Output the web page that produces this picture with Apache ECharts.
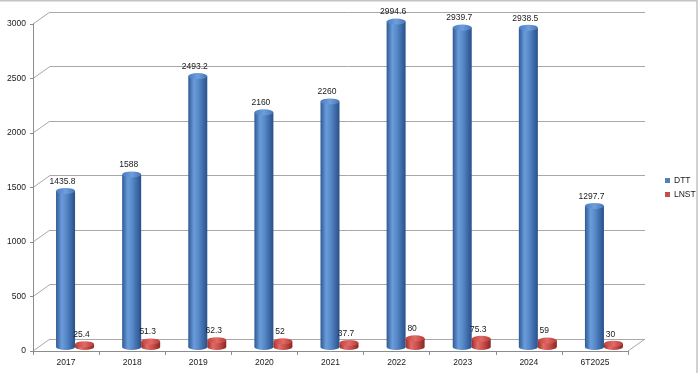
<!DOCTYPE html>
<html><head><meta charset="utf-8">
<script src="https://cdn.jsdelivr.net/npm/echarts@6/dist/echarts.min.js"></script>
<style>html,body{margin:0;padding:0;background:#fff}#c{width:700px;height:373px}</style>
</head><body><div id="c"></div>
<script>
const categories = ['2017','2018','2019','2020','2021','2022','2023','2024','6T2025'];
const dttValues = [1435.8, 1588, 2493.2, 2160, 2260, 2994.6, 2939.7, 2938.5, 1297.7];
const lnstValues = [25.4, 51.3, 62.3, 52, 37.7, 80, 75.3, 59, 30];
const yTickValues = [0, 500, 1000, 1500, 2000, 2500, 3000];

const FONT = 'Liberation Sans';
const BW = 19;
function hgrad(stops){return {type:'linear',x:0,y:0,x2:1,y2:0,colorStops:stops.map((c,i)=>({offset:c[0],color:c[1]}))};}
const blueBody = hgrad([[0,'#2d5a94'],[0.3,'#6b9cda'],[0.55,'#5687c7'],[1,'#27508a']]);
const redBody = hgrad([[0,'#9a2e2a'],[0.3,'#e26b66'],[0.6,'#c94f4b'],[1,'#8a2724']]);
const blueTop = hgrad([[0,'#4a7cc0'],[0.5,'#6f9edb'],[1,'#4676b8']]);
const redTop = hgrad([[0,'#c2423e'],[0.5,'#df6a66'],[1,'#b83b37']]);

const chart = echarts.init(document.getElementById('c'), null, {renderer:'canvas'});
const yMin = yTickValues[0], yMax = yTickValues[yTickValues.length-1], yInt = yTickValues[1]-yTickValues[0];
const txt = {color:'#1a1a1a', fontFamily:FONT, fontSize:8.5};

chart.setOption({
  animation:false,
  backgroundColor:'#ffffff',
  grid:[
    {left:33, right:72, top:24, bottom:22},
    {left:50, right:55, top:12, bottom:34},
    {left:42, right:63, top:21, bottom:26}
  ],
  xAxis:[
    {gridIndex:0, type:'category', data:categories, boundaryGap:true,
     axisLine:{show:true, lineStyle:{color:'#8c8c8c'}},
     axisTick:{show:true, length:4, lineStyle:{color:'#8c8c8c'}},
     axisLabel:Object.assign({margin:7}, txt)},
    {gridIndex:1, type:'value', min:0, max:1, show:false},
    {gridIndex:2, type:'category', data:categories, show:false}
  ],
  yAxis:[
    {gridIndex:0, type:'value', min:yMin, max:yMax, interval:yInt,
     axisLine:{show:true, lineStyle:{color:'#8c8c8c'}},
     axisTick:{show:true, length:3, lineStyle:{color:'#8c8c8c'}},
     splitLine:{show:false},
     axisLabel:Object.assign({margin:7, formatter:v=>String(v)}, txt)},
    {gridIndex:1, type:'value', min:yMin, max:yMax, interval:yInt,
     axisLine:{show:false}, axisTick:{show:false}, axisLabel:{show:false},
     splitLine:{show:true, lineStyle:{color:'#a8a8a8', width:1}}},
    {gridIndex:2, type:'value', min:yMin, max:yMax, show:false}
  ],
  legend:{
    orient:'vertical', left:665, top:176, padding:0, itemWidth:5, itemHeight:5, itemGap:5,
    textStyle:Object.assign({}, txt, {padding:[0,0,0,-1]}),
    icon:'rect',
    data:[{name:'DTT', itemStyle:{color:'#4f81bd'}},{name:'LNST', itemStyle:{color:'#c0504d'}}]
  },
  series:[
    {name:'DTT', type:'bar', xAxisIndex:2, yAxisIndex:2, data:dttValues, barWidth:BW, barGap:'0%',
     itemStyle:{color:blueBody}, z:3,
     label:{show:true, position:'top', distance:5, offset:[-3,0], color:'#1a1a1a', fontFamily:FONT, fontSize:8.5}},
    {name:'LNST', type:'bar', xAxisIndex:2, yAxisIndex:2, data:lnstValues, barWidth:BW, barGap:'0%',
     itemStyle:{color:redBody}, z:3,
     label:{show:true, position:'top', distance:5, offset:[-3,0], color:'#1a1a1a', fontFamily:FONT, fontSize:8.5}},
    {name:'DTT', type:'pictorialBar', xAxisIndex:2, yAxisIndex:2, data:dttValues, symbol:'circle',
     symbolSize:[BW,6], symbolPosition:'end', symbolOffset:[-BW/2,'-50%'], itemStyle:{color:blueTop}, z:4, silent:true},
    {name:'LNST', type:'pictorialBar', xAxisIndex:2, yAxisIndex:2, data:lnstValues, symbol:'circle',
     symbolSize:[BW,6], symbolPosition:'end', symbolOffset:[BW/2,'-50%'], itemStyle:{color:redTop}, z:4, silent:true},
    {name:'DTT', type:'pictorialBar', xAxisIndex:2, yAxisIndex:2, data:dttValues, symbol:'circle',
     symbolSize:[BW,6], symbolPosition:'start', symbolOffset:[-BW/2,'50%'], itemStyle:{color:blueBody}, z:2, silent:true},
    {name:'LNST', type:'pictorialBar', xAxisIndex:2, yAxisIndex:2, data:lnstValues, symbol:'circle',
     symbolSize:[BW,6], symbolPosition:'start', symbolOffset:[BW/2,'50%'], itemStyle:{color:redBody}, z:2, silent:true}
  ]
});

// perspective connectors between the front axes and the back wall, from the library's scales
const c0 = chart.convertToPixel({xAxisIndex:0}, 0);
const c1 = chart.convertToPixel({xAxisIndex:0}, 1);
const band = c1 - c0;
const frontLeft = c0 - band/2;
const frontRight = chart.convertToPixel({xAxisIndex:0}, categories.length-1) + band/2;
const backLeft = chart.convertToPixel({xAxisIndex:1}, 0);
const backRight = chart.convertToPixel({xAxisIndex:1}, 1);
const g = [];
yTickValues.forEach(v=>{
  const yf = chart.convertToPixel({yAxisIndex:0}, v);
  const yb = chart.convertToPixel({yAxisIndex:1}, v);
  g.push({type:'line', shape:{x1:frontLeft, y1:yf, x2:backLeft, y2:yb}, style:{stroke:'#a8a8a8', lineWidth:1}, silent:true});
});
g.push({type:'line', shape:{x1:frontRight, y1:chart.convertToPixel({yAxisIndex:0}, 0), x2:backRight, y2:chart.convertToPixel({yAxisIndex:1}, 0)}, style:{stroke:'#a8a8a8', lineWidth:1}, silent:true});
g.push({type:'rect', shape:{x:-2, y:0.75, width:699, height:380}, style:{fill:null, stroke:'#c4c4c4', lineWidth:1.5}, silent:true, z:100});
chart.setOption({graphic:g});
</script>
</body></html>
